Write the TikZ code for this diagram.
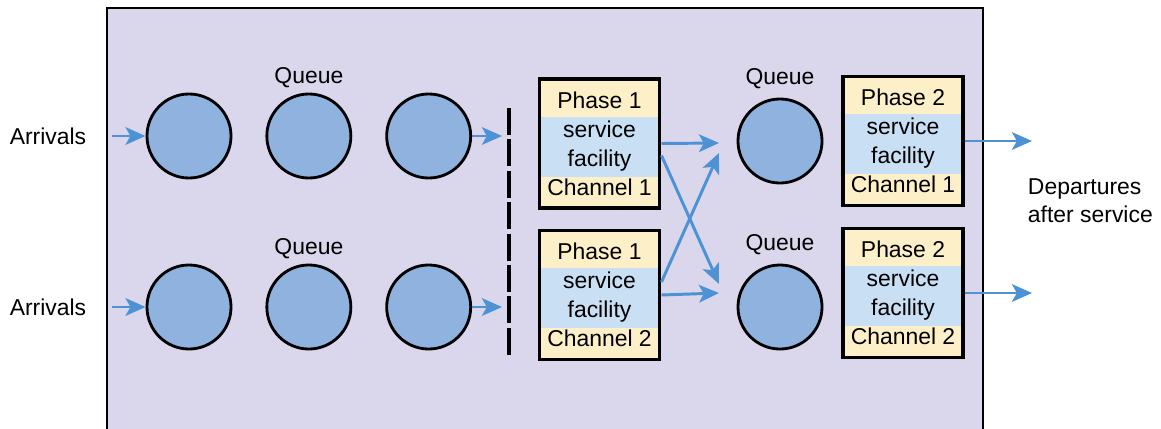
\documentclass[tikz,border=0pt]{standalone}
\usepackage{fontspec}
\setmainfont{Liberation Sans}
\usetikzlibrary{positioning,arrows.meta}
\definecolor{panel}{RGB}{218,215,236}
\definecolor{qblue}{RGB}{143,178,222}
\definecolor{fyellow}{RGB}{253,240,201}
\definecolor{fblue}{RGB}{201,223,243}
\definecolor{flowblue}{RGB}{76,146,212}
\tikzset{
  queue/.style={draw,circle,fill=qblue,line width=2pt,minimum size=2.1cm,inner sep=0pt},
  facility/.style={draw,line width=2.8pt,minimum width=3cm,minimum height=3.225cm,
    align=center,inner sep=0pt,font=\fontsize{16.3}{20.6}\selectfont,
    path picture={
      \fill[fyellow] (path picture bounding box.south west) rectangle (path picture bounding box.north east);
      \fill[fblue] ([yshift=-0.95cm]path picture bounding box.north west)
        rectangle ([yshift=0.78cm]path picture bounding box.south east);}},
  flow/.style={-{Stealth[length=5mm,width=4.4mm,inset=1.2mm]},line width=2.1pt,flowblue},
  lbl/.style={font=\fontsize{16.3}{19.8}\selectfont}
}
\begin{document}
\begin{tikzpicture}[x=0.025cm,y=-0.025cm]
      \useasboundingbox (0,0) rectangle (1161,428);
      \fill[panel] (107,8) rectangle (983,440);
      \draw[line width=1.2pt] (107,440) -- (107,8) -- (983,8) -- (983,440);

      % first phase queues
      \node [queue] (q11) at (189,136) {};
      \node [queue,right=0.825cm of q11] (q12) {};
      \node [queue,right=0.825cm of q12] (q13) {};
      \node [queue] (q21) at (189,307) {};
      \node [queue,right=0.825cm of q21] (q22) {};
      \node [queue,right=0.825cm of q22] (q23) {};
      \node [lbl,above=0cm of q12] (ql1) {Queue};
      \node [lbl,above=0cm of q22] (ql2) {Queue};
      \node [lbl] (arr1) at (48,136) {Arrivals};
      \node [lbl] (arr2) at (48,307) {Arrivals};

      % service facilities
      \node [facility] (p11) at (599.5,143.5) {Phase 1\\service\\facility\\Channel 1};
      \node [facility] (p12) at (599.5,295) {Phase 1\\service\\facility\\Channel 2};
      \node [facility] (p21) at (903,141) {Phase 2\\service\\facility\\Channel 1};
      \node [facility] (p22) at (903,293) {Phase 2\\service\\facility\\Channel 2};

      % second phase queues
      \node [queue] (q3) at (780,141) {};
      \node [queue] (q4) at (780,307) {};
      \node [lbl,above=0.1cm of q3] (ql3) {Queue};
      \node [lbl,above=0.1cm of q4] (ql4) {Queue};
      \node [lbl,anchor=west,align=left] (dep) at (1023,201) {Departures\\after service};

      \coordinate (in1) at (112,136);
      \coordinate (in2) at (112,307);
      \coordinate (g1) at (502,136);
      \coordinate (g2) at (502,307);
      \coordinate (m1) at (719,143);
      \coordinate (m2) at (719,153);
      \coordinate (m3) at (719,284);
      \coordinate (m4) at (719,293);
      \coordinate (out1) at (1032,141);
      \coordinate (out2) at (1032,293);

      \draw[line width=2.5pt,dash pattern=on 0.675cm off 0.11cm] (509,108) -- (509,358);

      \draw[flow] (in1) -- (q11);
      \draw[flow] (in2) -- (q21);
      \draw[flow] (q13) -- (g1);
      \draw[flow] (q23) -- (g2);
      \draw[flow] (p11.east) -- (m1);
      \draw[flow] ([yshift=-0.3cm]p11.east) -- (m3);
      \draw[flow] ([yshift=0.325cm]p12.east) -- (m2);
      \draw[flow] (p12.east) -- (m4);
      \draw[flow] (p21) -- (out1);
      \draw[flow] (p22) -- (out2);
    \end{tikzpicture}
\end{document}
